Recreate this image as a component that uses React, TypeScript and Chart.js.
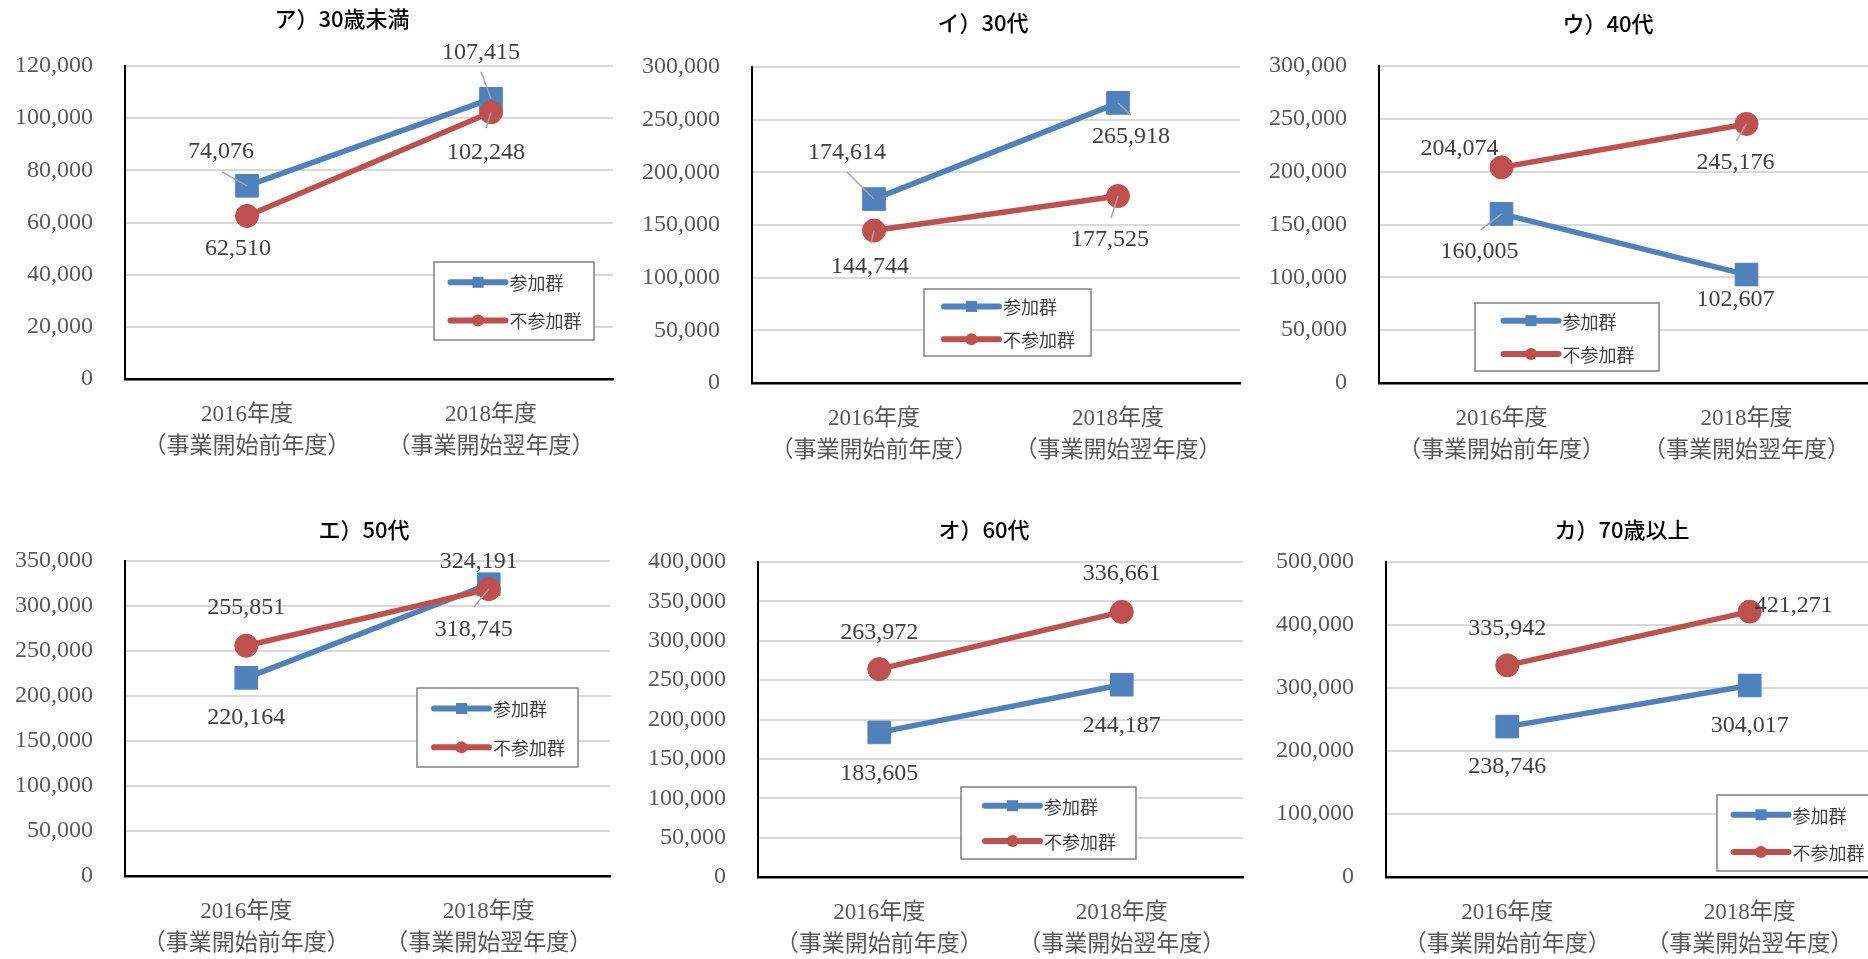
import { useEffect, useRef } from "react";
import { Chart, registerables } from "chart.js";

Chart.register(...registerables);

// ---------- data ----------
const categories = [
  ["2016年度", "（事業開始前年度）"],
  ["2018年度", "（事業開始翌年度）"],
];
const seriesLabels = ["参加群", "不参加群"];
const panelTitles = ["ア）30歳未満", "イ）30代", "ウ）40代", "エ）50代", "オ）60代", "カ）70歳以上"];

const under30Participant = [74076, 107415];
const under30NonParticipant = [62510, 102248];
const age30sParticipant = [174614, 265918];
const age30sNonParticipant = [144744, 177525];
const age40sParticipant = [160005, 102607];
const age40sNonParticipant = [204074, 245176];
const age50sParticipant = [220164, 324191];
const age50sNonParticipant = [255851, 318745];
const age60sParticipant = [183605, 244187];
const age60sNonParticipant = [263972, 336661];
const over70Participant = [238746, 304017];
const over70NonParticipant = [335942, 421271];

const participantSeries = [
  under30Participant,
  age30sParticipant,
  age40sParticipant,
  age50sParticipant,
  age60sParticipant,
  over70Participant,
];
const nonParticipantSeries = [
  under30NonParticipant,
  age30sNonParticipant,
  age40sNonParticipant,
  age50sNonParticipant,
  age60sNonParticipant,
  over70NonParticipant,
];

const yAxisMax = [120000, 300000, 300000, 350000, 400000, 500000];
const yAxisStep = [20000, 50000, 50000, 50000, 50000, 100000];

// ---------- styling / layout ----------
const BLUE = "#4f81bd";
const RED = "#c0504d";
const SERIF = "'Liberation Serif', 'Noto Sans CJK JP', serif";
const SANS = "'Noto Sans CJK JP', 'Noto Sans', sans-serif";

type Off = [number, number] | null;
type Layout = {
  canvas: [number, number, number, number];
  plot: [number, number, number, number];
  title: [number, number];
  legend: [number, number, number, number];
  labelOffsets: [Off, Off][]; // [participant, nonParticipant]
  leaders: [Off, Off][];
};

const layouts: Layout[] = [
  {
    canvas: [0, 0, 640, 479],
    plot: [125, 66, 613, 379],
    title: [342, 19],
    legend: [434, 262, 594, 340],
    labelOffsets: [
      [[-26, -34], [-10, -46]],
      [[-9, 33], [-5, 40]],
    ],
    leaders: [
      [[-25, -14], [-10, -27]],
      [null, [-5, 16]],
    ],
  },
  {
    canvas: [640, 0, 620, 479],
    plot: [752, 67, 1240, 383],
    title: [983, 23],
    legend: [924, 289, 1091, 356],
    labelOffsets: [
      [[-27, -46], [13, 34]],
      [[-4, 36], [-8, 44]],
    ],
    leaders: [
      [[-27, -27], [13, 12]],
      [[-3, 13], [-7, 22]],
    ],
  },
  {
    canvas: [1260, 0, 630, 479],
    plot: [1379, 66, 1869, 383],
    title: [1608, 24],
    legend: [1475, 303, 1659, 371],
    labelOffsets: [
      [[-22, 38], [-11, 25]],
      [[-42, -19], [-11, 39]],
    ],
    leaders: [
      [[-21, 16], null],
      [null, [-10, 17]],
    ],
  },
  {
    canvas: [0, 480, 640, 495],
    plot: [125, 561, 610, 876],
    title: [364, 530],
    legend: [417, 688, 578, 767],
    labelOffsets: [
      [[0, 40], [-10, -23]],
      [[0, -38], [-15, 41]],
    ],
    leaders: [
      [null, null],
      [null, [-15, 18]],
    ],
  },
  {
    canvas: [640, 480, 625, 495],
    plot: [758, 562, 1243, 877],
    title: [984, 530],
    legend: [961, 787, 1136, 859],
    labelOffsets: [
      [[0, 41], [0, 41]],
      [[0, -36], [0, -38]],
    ],
    leaders: [
      [null, null],
      [null, null],
    ],
  },
  {
    canvas: [1265, 480, 625, 495],
    plot: [1386, 562, 1871, 877],
    title: [1622, 530],
    legend: [1717, 795, 1877, 871],
    labelOffsets: [
      [[0, 40], [0, 40]],
      [[0, -37], [44, -6]],
    ],
    leaders: [
      [null, null],
      [null, null],
    ],
  },
];

function fmt(v: number) {
  return Number(v).toLocaleString("en-US");
}

function Panel({ index }: { index: number }) {
  const ref = useRef<HTMLCanvasElement | null>(null);
  const L = layouts[index];
  const [cx, cy, cw, ch] = L.canvas;
  const [pl, pt, pr, pb] = L.plot;

  useEffect(() => {
    const canvas = ref.current;
    if (!canvas) return;

    const decor = {
      id: "decor" + index,
      afterDatasetsDraw(chart: any) {
        const ctx = chart.ctx as CanvasRenderingContext2D;
        ctx.save();
        // leader lines
        chart.data.datasets.forEach((ds: any, di: number) => {
          const meta = chart.getDatasetMeta(di);
          meta.data.forEach((p: any, i: number) => {
            const ld = L.leaders[di][i];
            if (!ld) return;
            ctx.beginPath();
            ctx.strokeStyle = "#a6a6a6";
            ctx.lineWidth = 1.5;
            ctx.moveTo(p.x, p.y);
            ctx.lineTo(p.x + ld[0], p.y + ld[1]);
            ctx.stroke();
          });
        });
        // data labels
        ctx.font = `24px ${SERIF}`;
        ctx.fillStyle = "#404040";
        ctx.textAlign = "center";
        ctx.textBaseline = "middle";
        chart.data.datasets.forEach((ds: any, di: number) => {
          const meta = chart.getDatasetMeta(di);
          meta.data.forEach((p: any, i: number) => {
            const off = L.labelOffsets[di][i] || [0, 0];
            ctx.fillText(fmt(ds.data[i]), p.x + off[0], p.y + off[1]);
          });
        });
        ctx.restore();
      },
      afterDraw(chart: any) {
        const ctx = chart.ctx as CanvasRenderingContext2D;
        ctx.save();
        // title
        ctx.font = `500 22px ${SANS}`;
        ctx.fillStyle = "#000000";
        ctx.textAlign = "center";
        ctx.textBaseline = "middle";
        ctx.fillText(panelTitles[index], L.title[0] - cx, L.title[1] - cy);

        // legend
        const [ll, lt, lr, lb] = L.legend;
        const x = ll - cx;
        const y = lt - cy;
        const w = lr - ll;
        const h = lb - lt;
        ctx.fillStyle = "#ffffff";
        ctx.fillRect(x, y, w, h);
        ctx.strokeStyle = "#808080";
        ctx.lineWidth = 1.5;
        ctx.strokeRect(x, y, w, h);
        ctx.font = `18px ${SANS}`;
        const textW = ctx.measureText(seriesLabels[1]).width;
        const lineLen = 55;
        const gap = 4;
        const contentW = lineLen + gap + textW;
        const x0 = x + (w - contentW) / 2 + 2;
        const rows = [y + h * 0.26, y + h * 0.75];
        chart.data.datasets.forEach((ds: any, di: number) => {
          const ry = rows[di];
          ctx.beginPath();
          ctx.strokeStyle = ds.borderColor;
          ctx.lineWidth = 6;
          ctx.lineCap = "round";
          ctx.moveTo(x0, ry);
          ctx.lineTo(x0 + lineLen, ry);
          ctx.stroke();
          ctx.fillStyle = ds.borderColor;
          const mx = x0 + lineLen / 2;
          if (ds.pointStyle === "rect") {
            ctx.fillRect(mx - 5.5, ry - 5.5, 11, 11);
          } else {
            ctx.beginPath();
            ctx.arc(mx, ry, 6, 0, Math.PI * 2);
            ctx.fill();
          }
          ctx.fillStyle = "#404040";
          ctx.textAlign = "left";
          ctx.textBaseline = "middle";
          ctx.fillText(ds.label, x0 + lineLen + gap, ry + 1);
        });
        ctx.restore();
      },
    };

    const chart = new Chart(canvas, {
      type: "line",
      data: {
        labels: categories,
        datasets: [
          {
            label: seriesLabels[0],
            data: participantSeries[index],
            borderColor: BLUE,
            backgroundColor: BLUE,
            borderWidth: 5.5,
            pointStyle: "rect",
            pointRadius: 16,
            pointBackgroundColor: BLUE,
            pointBorderColor: BLUE,
            pointBorderWidth: 1,
            order: 1,
            clip: false as any,
          },
          {
            label: seriesLabels[1],
            data: nonParticipantSeries[index],
            borderColor: RED,
            backgroundColor: RED,
            borderWidth: 5.5,
            pointStyle: "circle",
            pointRadius: 11.5,
            pointBackgroundColor: RED,
            pointBorderColor: RED,
            pointBorderWidth: 1,
            order: 0,
            clip: false as any,
          },
        ],
      },
      options: {
        animation: false,
        responsive: false,
        devicePixelRatio: 1,
        events: [],
        layout: {
          padding: { top: pt - cy, left: 0, right: cx + cw - pr, bottom: 0 },
        },
        plugins: {
          legend: { display: false },
          title: { display: false },
          tooltip: { enabled: false },
        },
        scales: {
          x: {
            type: "category",
            offset: true,
            grid: { display: false, drawTicks: false },
            border: { display: true, color: "#000000", width: 2.5 },
            ticks: {
              padding: 20,
              color: "#595959",
              font: { family: SERIF, size: 23, lineHeight: 1.4 },
              maxRotation: 0,
              autoSkip: false,
            },
            afterFit: (scale: any) => {
              scale.height = cy + ch - pb;
            },
          },
          y: {
            min: 0,
            max: yAxisMax[index],
            grid: { color: "#d9d9d9", lineWidth: 2, drawTicks: false },
            border: { display: true, color: "#000000", width: 2 },
            ticks: {
              stepSize: yAxisStep[index],
              padding: 32,
              color: "#595959",
              font: { family: SERIF, size: 24 },
              callback: (v: any) => fmt(v),
            },
            afterFit: (scale: any) => {
              scale.width = pl - cx;
            },
          },
        },
      },
      plugins: [decor],
    } as any);

    return () => chart.destroy();
  }, [index]);

  return (
    <canvas
      ref={ref}
      width={cw}
      height={ch}
      style={{ position: "absolute", left: cx, top: cy, width: cw, height: ch }}
    />
  );
}

export default function App() {
  return (
    <div
      style={{
        position: "fixed",
        left: 0,
        top: 0,
        width: 1868,
        height: 959,
        overflow: "hidden",
        background: "#ffffff",
      }}
    >
      {layouts.map((_, i) => (
        <Panel key={i} index={i} />
      ))}
    </div>
  );
}
